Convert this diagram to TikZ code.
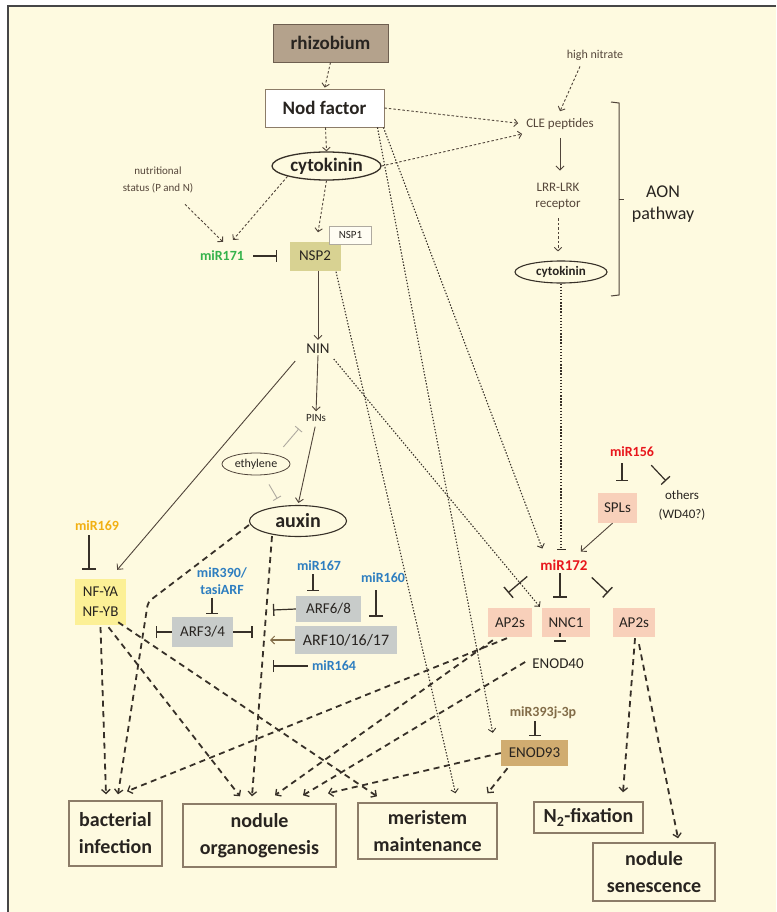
\documentclass[tikz,border=0pt]{standalone}
\usepackage{fontspec}
\setmainfont{Carlito}
\usetikzlibrary{arrows.meta,shapes.geometric,calc}
\definecolor{bg}{RGB}{254,250,224}
\definecolor{frm}{RGB}{70,70,70}
\definecolor{tx}{RGB}{40,36,32}
\definecolor{stx}{RGB}{85,70,58}
\definecolor{lc}{RGB}{80,68,58}
\definecolor{dk}{RGB}{55,48,40}
\definecolor{bx}{RGB}{140,124,104}
\definecolor{rhzf}{RGB}{180,162,140}
\definecolor{rhzd}{RGB}{110,95,80}
\definecolor{nspf}{RGB}{216,210,146}
\definecolor{pinkf}{RGB}{248,208,186}
\definecolor{tanf}{RGB}{208,172,112}
\definecolor{yelf}{RGB}{252,240,150}
\definecolor{grayf}{RGB}{200,204,202}
\definecolor{mblue}{RGB}{46,126,192}
\definecolor{mred}{RGB}{232,22,28}
\definecolor{mgreen}{RGB}{52,178,74}
\definecolor{morange}{RGB}{242,176,18}
\definecolor{mbrown}{RGB}{130,108,72}
\definecolor{lgray}{RGB}{175,170,160}
\begin{document}
\begin{tikzpicture}[x=1pt,y=-1pt,
  every node/.style={inner sep=1pt,text=tx},
  box/.style={draw=bx,line width=0.9pt,inner sep=0pt},
  fbox/.style={inner sep=0pt},
  big/.style={font=\fontsize{19}{23}\selectfont\bfseries},
  outb/.style={draw=bx,line width=1.4pt,inner sep=0pt,align=center,font=\fontsize{20}{27}\selectfont\bfseries},
  mir/.style={font=\fontsize{14}{17}\selectfont\bfseries},
  lab/.style={font=\fontsize{15}{18}\selectfont},
  sml/.style={font=\fontsize{12}{16}\selectfont,text=stx},
  dsh/.style={draw=lc,line width=0.9pt,dash pattern=on 2.5pt off 2pt,-{Straight Barb[length=3.5pt,width=7.5pt,line width=0.9pt]}},
  dtt/.style={draw=dk,line width=1.1pt,dash pattern=on 1.4pt off 1.7pt,-{Straight Barb[length=3.5pt,width=7.5pt,line width=0.9pt]}},
  sol/.style={draw=lc,line width=0.9pt,-{Straight Barb[length=4pt,width=8pt,line width=0.9pt]}},
  thk/.style={draw=dk,line width=1.8pt,dash pattern=on 6pt off 4.5pt,-{Straight Barb[length=4pt,width=8.5pt,line width=1.3pt]}},
  inh/.style={draw=dk,line width=1.2pt,-{Bar[width=12pt,line width=1.3pt]}},
  binh/.style={draw=dk,line width=1.3pt,-{Bar[width=14pt,line width=1.4pt]}},
  ginh/.style={draw=lgray,line width=0.9pt,-{Bar[width=9pt,line width=0.9pt]}}
]
\useasboundingbox (0,0) rectangle (776,912);
\fill[white] (0,0) rectangle (776,912);
\fill[bg] (8,6) rectangle (776,912);
\draw[frm,line width=1.2pt] (776,6) -- (8,6) -- (8,912);

% ---------- nodes ----------
\node[box,fill=rhzf,draw=rhzd,minimum width=115pt,minimum height=38pt,big] (rhiz) at (330.5,43) {rhizobium};
\node[box,fill=white,minimum width=119pt,minimum height=38pt,big] (nod) at (324.5,108) {Nod factor};
\node[ellipse,draw=dk,line width=1.3pt,inner sep=0pt,minimum width=109pt,minimum height=28pt,big] (cyto) at (326.5,166) {cytokinin};
\node[sml,align=center,font=\fontsize{11}{17}\selectfont] (nutr) at (158,180) {nutritional\\status (P and N)};
\node[mir,text=mgreen] (mir171) at (222,256) {miR171};
\node[fbox,fill=nspf,minimum width=51pt,minimum height=29pt,lab] (nsp2) at (315,256) {NSP2};
\node[box,draw=lgray,fill=white!60!bg,minimum width=42pt,minimum height=18pt,font=\fontsize{11}{13}\selectfont] (nsp1) at (350.5,235) {NSP1};
\node[lab] (nin) at (318,349) {NIN};
\node[font=\fontsize{11}{13}\selectfont] (pins) at (316,418) {PINs};
\node[ellipse,draw=lc,line width=0.8pt,inner sep=0pt,minimum width=68pt,minimum height=22pt,font=\fontsize{12}{14}\selectfont] (ethyl) at (256,464) {ethylene};
\node[ellipse,draw=dk,line width=1.1pt,inner sep=0pt,minimum width=97pt,minimum height=31pt,font=\fontsize{20}{24}\selectfont\bfseries] (auxin) at (298,521) {auxin};
\node[mir,text=morange] (mir169) at (97,526) {miR169};
\node[fbox,fill=yelf,minimum width=51pt,minimum height=46pt,align=center,font=\fontsize{15}{20}\selectfont] (nfy) at (100.5,602) {NF-YA\\NF-YB};
\node[mir,text=mblue,align=center,font=\fontsize{14}{17}\selectfont\bfseries] (mir390) at (222,581) {miR390/\\tasiARF};
\node[fbox,fill=grayf,minimum width=61pt,minimum height=30pt,lab] (arf34) at (202.5,632) {ARF3/4};
\node[fbox,fill=grayf,minimum width=65pt,minimum height=26pt,lab] (arf68) at (328.5,609) {ARF6/8};
\node[mir,text=mblue] (mir167) at (319,566) {miR167};
\node[mir,text=mblue] (mir160) at (383,578) {miR160};
\node[fbox,fill=grayf,minimum width=102pt,minimum height=28pt,font=\fontsize{16}{19}\selectfont] (arf10) at (346,640) {ARF10/16/17};
\node[mir,text=mblue] (mir164) at (334,666) {miR164};
\node[sml] (highn) at (595,55) {high nitrate};
\node[sml,font=\fontsize{13}{16}\selectfont] (clepep) at (560,124) {CLE peptides};
\node[sml,align=center,font=\fontsize{13}{16}\selectfont] (lrr) at (558,196) {LRR-LRK\\receptor};
\node[ellipse,draw=dk,line width=1.1pt,inner sep=0pt,minimum width=92pt,minimum height=22pt,font=\fontsize{13}{15}\selectfont\bfseries] (cyto2) at (561,272) {cytokinin};
\node[align=center,font=\fontsize{18}{22}\selectfont] (aon) at (663,204) {AON\\pathway};
\node[mir,text=mred] (mir156) at (632,452) {miR156};
\node[fbox,fill=pinkf,minimum width=39pt,minimum height=30pt,lab] (spls) at (617.5,508) {SPLs};
\node[align=center,font=\fontsize{13}{19}\selectfont] (others) at (682,505) {others\\(WD40?)};
\node[mir,text=mred,font=\fontsize{15}{18}\selectfont\bfseries] (mir172) at (564,565) {miR172};
\node[fbox,fill=pinkf,minimum width=44pt,minimum height=29pt,lab] (ap2l) at (510,622.5) {AP2s};
\node[fbox,fill=pinkf,minimum width=48pt,minimum height=29pt,lab] (nnc1) at (566,622.5) {NNC1};
\node[fbox,fill=pinkf,minimum width=42pt,minimum height=29pt,lab] (ap2r) at (634,622.5) {AP2s};
\node[lab] (enod40) at (558,664) {ENOD40};
\node[mir,text=mbrown] (mir393) at (543,713) {miR393j-3p};
\node[fbox,fill=tanf,minimum width=67pt,minimum height=26pt,lab] (enod93) at (534.5,753) {ENOD93};
\node[outb,minimum width=93pt,minimum height=65pt] (bact) at (115.5,833.5) {bacterial\\infection};
\node[outb,minimum width=153pt,minimum height=63pt] (organ) at (259.5,835.5) {nodule\\organogenesis};
\node[outb,minimum width=139pt,minimum height=56pt] (merist) at (427.5,831) {meristem\\maintenance};
\node[outb,minimum width=109pt,minimum height=31pt] (n2fix) at (588.5,817.5) {N\textsubscript{2}-fixation};
\node[outb,minimum width=122pt,minimum height=58pt] (senesc) at (654,872) {nodule\\senescence};

% free ends
\coordinate (b34l) at (156,632);
\coordinate (b34r) at (253,632);
\coordinate (b68) at (273,610);
\coordinate (a10) at (270,640);
\coordinate (b164) at (273,666);
\coordinate (kink) at (148,602);

% AON bracket
\draw[lc,line width=1pt] (611,102) -- (619,103) -- (619,295) -- (611,296);
\draw[lc,line width=1pt] (619,199) -- (624,199);

% ---------- connectors ----------
\draw[dsh,shorten >=1pt] (rhiz.south) -- (nod.north);
\draw[dsh] ($(nod.south)+(1,0)$) -- (cyto.north);
\draw[dsh,shorten >=7pt] (nod.east) -- (clepep.west);
\draw[dsh,shorten >=1pt] (cyto.east) -- ($(clepep.south west)+(-2,3)$);
\draw[dsh] ($(highn.south)+(-15,5)$) -- ($(clepep.north)+(0,-6)$);
\draw[sol,shorten <=7pt,shorten >=11pt] (clepep.south) -- (clepep.south |- lrr.north);
\draw[dsh,shorten <=8pt,shorten >=9pt] (lrr.south) -- (lrr.south |- cyto2.north);
\draw[draw=dk,line width=1.1pt,dash pattern=on 1.4pt off 1.7pt,-{Bar[width=9pt,line width=0.9pt]},shorten >=9pt] (cyto2.south) -- (cyto2.south |- mir172.north);

\draw[dsh] ($(nutr.south)+(27,10)$) -- ($(mir171.north)+(1,-8)$);
\draw[dsh] (cyto.south west) -- ($(mir171.north)+(11,-10)$);
\draw[dsh] (cyto.south) -- ($(nsp2.north)+(3,-9)$);
\draw[inh] ($(mir171.east)+(8,0)$) -- ($(nsp2.west)+(-12,0)$);
\draw[sol,shorten >=3pt] (nin.north |- nsp2.south) -- (nin.north);
\draw[sol,shorten >=2pt] (nin.south) -- (pins.north);
\draw[sol,shorten <=4pt,shorten >=2pt] (pins.south) -- (auxin.north);
\draw[ginh] ($(ethyl.north east)+(3,-9)$) -- ($(pins.south west)+(-6,6)$);
\draw[ginh] ($(ethyl.south)+(13,9)$) -- ($(auxin.north west)+(14,-11)$);
\draw[sol] ($(nin.south west)+(-10,6)$) -- ($(nfy.north east)+(-9,-9)$);

\draw[dtt] ($(nin.south east)+(3,4)$) -- ($(nnc1.north west)+(-2,-1)$);
\draw[dtt] ($(nod.south east)+(-1,0)$) -- ($(mir172.north west)+(3,-10)$);
\draw[dtt] ($(nod.south east)+(-7,0)$) -- ($(enod93.north west)+(-8,-7)$);
\draw[dtt] ($(nsp2.south)+(21,1)$) -- ($(merist.north)+(28,-9)$);

\draw[sol] ($(spls.south)+(-5,0)$) -- ($(mir172.north east)+(-8,-7)$);
\draw[inh] ($(mir156.south)+(-10,5)$) -- ($(spls.north)+(4.5,-12)$);
\draw[inh] ($(mir156.south east)+(-4,7)$) -- ($(others.north)+(-16,-8)$);
\draw[binh] ($(mir172.south west)+(-12,5)$) -- ($(ap2l.north)+(-2,-15)$);
\draw[binh] ($(mir172.south)+(-4,2)$) -- ($(nnc1.north)+(-6,-10)$);
\draw[binh] ($(mir172.south east)+(3,6)$) -- ($(ap2r.north)+(-26,-15)$);
\draw[inh,shorten >=3pt] ($(nnc1.south)+(-6,0)$) -- ($(nnc1.south)+(-6,0)$ |- enod40.north);
\draw[inh] ($(mir393.south)+(-8,1)$) -- ($(enod93.north)+(0.5,-4)$);

\draw[binh] ($(mir169.south)+(-8,3)$) -- ($(nfy.north)+(-11.5,-9)$);
\draw[inh] ($(mir390.south)+(-10,2)$) -- ($(arf34.north)+(9.5,-3)$);
\draw[inh] (arf34.west) -- (b34l);
\draw[draw=dk,line width=2.2pt,-{Bar[width=12pt,line width=1.6pt]}] (arf34.east) -- (b34r);
\draw[inh] ($(mir167.south)+(-6,2)$) -- ($(arf68.north)+(-15.5,-5)$);
\draw[inh] (arf68.west) -- (b68);
\draw[binh] ($(mir160.south)+(-7,6)$) -- ($(arf10.north)+(30,-9)$);
\draw[sol,draw=mbrown,line width=1.1pt] (arf10.west) -- (a10);
\draw[inh,shorten <=3pt] (mir164.west) -- (b164);

% thick dashed outputs
\draw[thk] ($(nfy.south)+(0,2)$) -- ($(bact.north)+(-9.5,-6)$);
\draw[thk,rounded corners=4pt] ($(auxin.west)+(0,4)$) -- (kink) -- ($(bact.north)+(2.5,-6)$);
\draw[thk] ($(ap2l.south)+(-3,1)$) -- ($(bact.north)+(11.5,-9)$);
\draw[thk] ($(nfy.south)+(8,2)$) -- ($(organ.north)+(-19.5,-7)$);
\draw[thk] ($(nfy.south east)+(-8,-3)$) -- ($(merist.north)+(-50.5,-6)$);
\draw[thk] ($(auxin.south)+(-26,-1)$) -- ($(organ.north)+(-7.5,-7)$);
\draw[thk] ($(ap2l.south west)+(5,3)$) -- ($(organ.north)+(15.5,-8)$);
\draw[thk] ($(enod40.west)+(-6,-2)$) -- ($(organ.north)+(43.5,-8)$);
\draw[thk] (enod93.west) -- ($(organ.north)+(68.5,-10)$);
\draw[thk] ($(enod93.south)+(-27,2)$) -- ($(merist.north)+(60,-9)$);
\draw[thk] ($(ap2r.south)+(1,1)$) -- ($(n2fix.north)+(34.5,-9)$);
\draw[thk] ($(ap2r.south)+(5,7)$) -- ($(senesc.north)+(24,-4)$);
\end{tikzpicture}
\end{document}
